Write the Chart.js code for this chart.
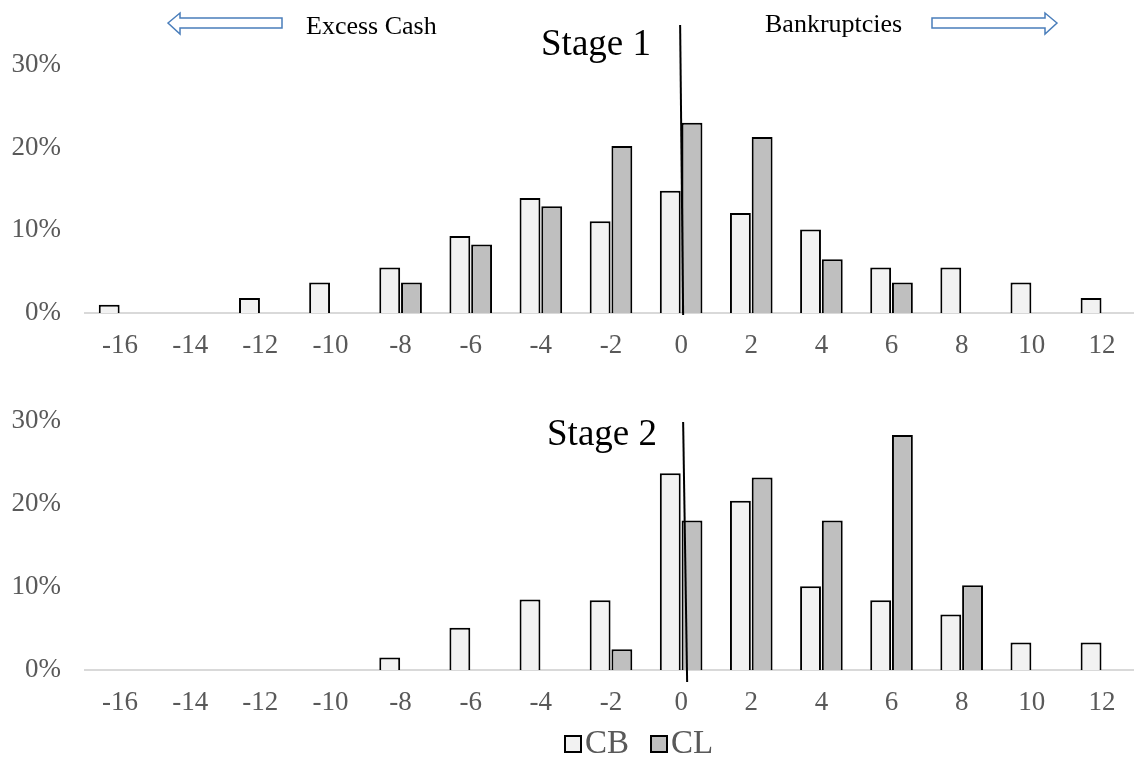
<!DOCTYPE html>
<html>
<head>
<meta charset="utf-8">
<script src="https://cdn.jsdelivr.net/npm/chart.js@4.4.0/dist/chart.umd.min.js"></script>
<style>
  html, body { margin: 0; padding: 0; background: #fff; overflow: hidden; }
  #wrap { position: relative; width: 1134px; height: 762px; overflow: hidden; font-family: "Liberation Serif", "Times New Roman", serif; }
  canvas { position: absolute; left: 0; }
  .note { position: absolute; line-height: 1; white-space: nowrap; color: #000; }
  .stage { font-size: 37px; transform: translateX(-50%); }
  .side { font-size: 26px; }
  .legend { position: absolute; top: 724px; left: 564px; font-size: 33px; color: #595959; line-height: 36px; white-space: nowrap; }
  .legend span.box { display: inline-block; width: 14px; height: 14px; border: 2px solid #000; vertical-align: 0px; margin-right: 3px; }
  .legend span.item { margin-right: 21px; }
</style>
</head>
<body>
<div id="wrap">
  <canvas id="stage1" width="1140" height="380" style="top:0"></canvas>
  <canvas id="stage2" width="1140" height="382" style="top:380px"></canvas>

  <svg width="1134" height="50" style="position:absolute;left:0;top:0">
    <polygon points="168,23 180,13 180,18 282,18 282,28 180,28 180,34" fill="#fff" stroke="#4a7ebb" stroke-width="1.5"/>
    <polygon points="1057,23 1045,13 1045,18 932,18 932,28 1045,28 1045,34" fill="#fff" stroke="#4a7ebb" stroke-width="1.5"/>
  </svg>
  <div class="note side" style="left:306px;top:13px">Excess Cash</div>
  <div class="note side" style="left:765px;top:11px">Bankruptcies</div>
  <div class="note stage" style="left:596px;top:24px">Stage 1</div>
  <div class="note stage" style="left:602px;top:414px">Stage 2</div>

  <div class="legend">
    <span class="item"><span class="box" style="background:#f2f2f2"></span>CB</span><span class="item"><span class="box" style="background:#bfbfbf"></span>CL</span>
  </div>
</div>

<script>
// categorias (eixo x)
const categories = ["-16", "-14", "-12", "-10", "-8", "-6", "-4", "-2", "0", "2", "4", "6", "8", "10", "12"];

// Stage 1 (%)
const stage1CB = [1.0, 0, 1.8, 3.7, 5.5, 9.3, 13.9, 11.1, 14.8, 12.1, 10.1, 5.5, 5.5, 3.7, 1.8];
const stage1CL = [0, 0, 0, 0, 3.7, 8.3, 12.9, 20.2, 23.0, 21.3, 6.5, 3.7, 0, 0, 0];

// Stage 2 (%)
const stage2CB = [0, 0, 0, 0, 1.5, 5.1, 8.5, 8.4, 23.7, 20.4, 10.1, 8.4, 6.7, 3.3, 3.3];
const stage2CL = [0, 0, 0, 0, 0, 0, 0, 2.5, 18.0, 23.2, 18.0, 28.3, 10.2, 0, 0];

// ticks do eixo y
const yTicks = [0, 10, 20, 30];

const tickFont = { family: "Liberation Serif", size: 27 };
const tickColor = "#595959";

// linha vertical desenhada sobre a categoria "0"
const zeroLinePlugin = {
  id: "zeroLine",
  afterDatasetsDraw(chart, args, opts) {
    const { ctx, chartArea, scales } = chart;
    const c = scales.x.getPixelForValue(categories.indexOf("0"));
    ctx.save();
    ctx.strokeStyle = "#000";
    ctx.lineWidth = 2;
    ctx.beginPath();
    ctx.moveTo(c + opts.dxTop, chartArea.top + opts.top);
    ctx.lineTo(c + opts.dxBottom, chartArea.bottom + opts.bottom);
    ctx.stroke();
    ctx.restore();
  }
};

function desenharStage(id, cb, cl, padding, linha) {
  const ctx = document.getElementById(id);
  return new Chart(ctx, {
    type: "bar",
    data: {
      labels: categories,
      datasets: [
        {
          label: "CB",
          data: cb.map(v => v || null),
          backgroundColor: "#f2f2f2",
          borderColor: "#000",
          borderWidth: 2,
          categoryPercentage: 0.62,
          barPercentage: 0.96
        },
        {
          label: "CL",
          data: cl.map(v => v || null),
          backgroundColor: "#bfbfbf",
          borderColor: "#000",
          borderWidth: 2,
          categoryPercentage: 0.62,
          barPercentage: 0.96
        }
      ]
    },
    options: {
      responsive: false,
      animation: false,
      layout: { padding },
      plugins: {
        legend: { display: false },
        tooltip: { enabled: false },
        zeroLine: linha
      },
      scales: {
        x: {
          grid: { display: false, drawTicks: false },
          border: { display: true, color: "#d9d9d9", width: 2 },
          ticks: { font: tickFont, color: tickColor, padding: 17, maxRotation: 0, autoSkip: false },
          afterFit: s => { s.height = 60; }
        },
        y: {
          min: 0,
          max: 30,
          grid: { display: false, drawTicks: false },
          border: { display: false },
          afterBuildTicks: s => { s.ticks = yTicks.map(v => ({ value: v })); },
          ticks: { font: tickFont, color: tickColor, padding: 24, callback: v => v + "%" },
          afterFit: s => { s.width = 85; }
        }
      }
    },
    plugins: [zeroLinePlugin]
  });
}

document.addEventListener("DOMContentLoaded", () => {
  desenharStage("stage1", stage1CB, stage1CL,
    { top: 65, left: 0, right: 3, bottom: 7 },
    { dxTop: -1, dxBottom: 2, top: -40, bottom: 2 });
  desenharStage("stage2", stage2CB, stage2CL,
    { top: 41, left: 0, right: 3, bottom: 32 },
    { dxTop: 2, dxBottom: 6, top: 1, bottom: 12 });
});
</script>
</body>
</html>
